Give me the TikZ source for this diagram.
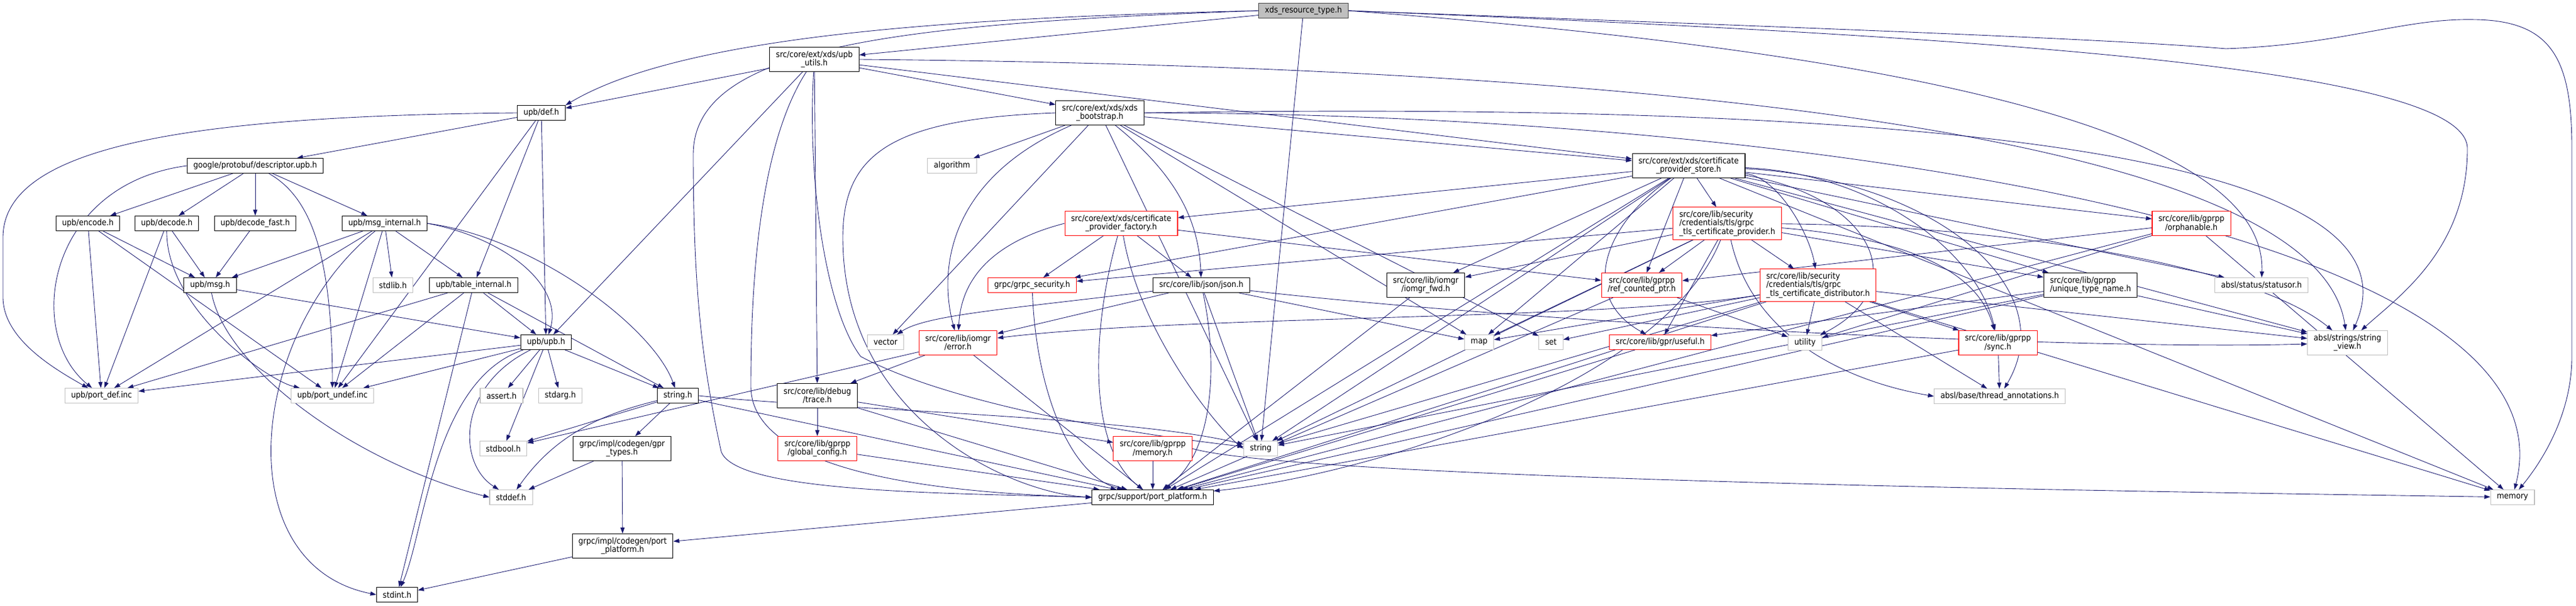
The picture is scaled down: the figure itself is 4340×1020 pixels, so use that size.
\documentclass[tikz,border=0pt]{standalone}
\usepackage{fontspec}
\setmainfont{DejaVu Sans}[FakeStretch=0.9]
\usetikzlibrary{arrows.meta, backgrounds}

\definecolor{edgeblue}{HTML}{191970}
\definecolor{sysgray}{HTML}{BFBFBF}
\definecolor{rootline}{HTML}{404040}

\tikzset{
  hbox/.style={draw, line width=0.6pt, fill=white, inner xsep=6pt, inner ysep=2pt,
    minimum height=14.2pt, align=center, font=\fontsize{8pt}{8.2pt}\selectfont},
  hfile/.style={hbox, draw=black},
  hsys/.style={hbox, draw=sysgray},
  hred/.style={hbox, draw=red},
  hroot/.style={hbox, draw=rootline, fill=sysgray},
  two/.style={minimum height=23.3pt},
  three/.style={minimum height=30.8pt, align=left},
  incl/.style={draw=edgeblue, line width=0.5pt, -{Triangle[length=5.7pt,width=4pt]}}
}

\begin{document}
\begin{tikzpicture}[x=0.02cm, y=-0.02cm]
  \useasboundingbox (0,0) rectangle (4340,1020);
  % xds side
  \node[hroot] (root) at (2196,18) {xds\_resource\_type.h};
  \node[hfile, two] (utils) at (1372,100) {src/core/ext/xds/upb\\\_utils.h};
  \node[hfile, two] (boot) at (1853,190) {src/core/ext/xds/xds\\\_bootstrap.h};
  \node[hfile, two] (store) at (2845,279) {src/core/ext/xds/certificate\\\_provider\_store.h};
  \node[hred, two] (cpfactory) at (1889,376) {src/core/ext/xds/certificate\\\_provider\_factory.h};
  \node[hred, three] (tlsprov) at (2910,376) {src/core/lib/security\\/credentials/tls/grpc\\\_tls\_certificate\_provider.h};
  \node[hred, two] (orphan) at (3692,376) {src/core/lib/gprpp\\/orphanable.h};
  \node[hred] (security) at (1739,480) {grpc/grpc\_security.h};
  \node[hfile] (json) at (2024,480) {src/core/lib/json/json.h};
  \node[hfile, two] (iomgrfwd) at (2402,480) {src/core/lib/iomgr\\/iomgr\_fwd.h};
  \node[hred, two] (refptr) at (2766,480) {src/core/lib/gprpp\\/ref\_counted\_ptr.h};
  \node[hred, three] (tlsdist) at (3063,480) {src/core/lib/security\\/credentials/tls/grpc\\\_tls\_certificate\_distributor.h};
  \node[hfile, two, align=left] (utn) at (3522,480) {src/core/lib/gprpp\\/unique\_type\_name.h};
  \node[hred, two] (error) at (1614,577) {src/core/lib/iomgr\\/error.h};
  \node[hred] (useful) at (2797,576) {src/core/lib/gpr/useful.h};
  \node[hred, two] (sync) at (3366,577) {src/core/lib/gprpp\\/sync.h};
  \node[hfile, two] (trace) at (1377,666) {src/core/lib/debug\\/trace.h};
  \node[hred, two] (globalcfg) at (1377,755) {src/core/lib/gprpp\\/global\_config.h};
  \node[hred, two] (gmemory) at (1942,755) {src/core/lib/gprpp\\/memory.h};
  \node[hfile] (portplat) at (1942,837) {grpc/support/port\_platform.h};
  % upb side
  \node[hfile] (def) at (912,190) {upb/def.h};
  \node[hfile] (desc) at (430,279) {google/protobuf/descriptor.upb.h};
  \node[hfile] (encode) at (148,376) {upb/encode.h};
  \node[hfile] (decode) at (281,376) {upb/decode.h};
  \node[hfile] (decfast) at (430,376) {upb/decode\_fast.h};
  \node[hfile] (msgint) at (648,376) {upb/msg\_internal.h};
  \node[hfile] (msg) at (354,480) {upb/msg.h};
  \node[hfile] (table) at (798,480) {upb/table\_internal.h};
  \node[hfile] (upb) at (920,576) {upb/upb.h};
  \node[hfile] (stringh) at (1142,666) {string.h};
  \node[hfile, two] (gprtypes) at (1048,755) {grpc/impl/codegen/gpr\\\_types.h};
  \node[hfile, two] (codegenpp) at (1049,919) {grpc/impl/codegen/port\\\_platform.h};
  \node[hfile] (stdint) at (669,1001) {stdint.h};
  % system headers
  \node[hsys] (algorithm) at (1604,279) {algorithm};
  \node[hsys] (stdlib) at (662,480) {stdlib.h};
  \node[hsys] (statusor) at (3810,480) {absl/status/statusor.h};
  \node[hsys] (vector) at (1492,576) {vector};
  \node[hsys] (map) at (2492,576) {map};
  \node[hsys] (set) at (2613,576) {set};
  \node[hsys] (utility) at (3041,577) {utility};
  \node[hsys, two] (strview) at (3955,577) {absl/strings/string\\\_view.h};
  \node[hsys] (portdef) at (171,666) {upb/port\_def.inc};
  \node[hsys] (portundef) at (560,666) {upb/port\_undef.inc};
  \node[hsys] (assert) at (845,666) {assert.h};
  \node[hsys] (stdarg) at (944,666) {stdarg.h};
  \node[hsys] (thread) at (3369,667) {absl/base/thread\_annotations.h};
  \node[hsys] (stdbool) at (848,755) {stdbool.h};
  \node[hsys] (string) at (2124,755) {string};
  \node[hsys] (stddef) at (861,837) {stddef.h};
  \node[hsys] (memory) at (4233,837) {memory};

  \begin{pgfonlayer}{background}
  % straight includes
  \foreach \s/\t in {
    root/utils, root/string,
    utils/def, utils/upb, utils/boot, utils/store, utils/trace,
    def/desc, def/table, def/upb, def/portundef,
    desc/encode, desc/decode, desc/decfast, desc/msgint,
    encode/msg, encode/portdef, encode/portundef, decode/msg, decode/portdef, decfast/msg,
    msgint/msg, msgint/stdlib, msgint/table, msgint/portdef, msgint/portundef,
    msg/upb,
    table/stdint, table/stringh, table/upb, table/portdef, table/portundef,
    upb/assert, upb/stdarg, upb/stdbool, upb/stringh, upb/portdef, upb/portundef,
    stringh/stdbool, stringh/gprtypes, stringh/portplat,
    gprtypes/stddef, gprtypes/codegenpp, codegenpp/stdint, portplat/codegenpp,
    trace/globalcfg, trace/portplat, trace/gmemory, globalcfg/portplat, gmemory/portplat,
    error/trace, error/stdbool, error/portplat,
    boot/algorithm, boot/vector, boot/string, boot/map, boot/set, boot/store,
    cpfactory/security, cpfactory/json, cpfactory/refptr,
    json/error, json/string, json/map,
    iomgrfwd/portplat, refptr/utility, refptr/portplat,
    store/cpfactory, store/security, store/string, store/iomgrfwd, store/map, store/refptr,
    store/tlsprov, store/utn, store/orphan, store/strview, store/memory, store/statusor,
    store/portplat,
    tlsprov/security, tlsprov/iomgrfwd, tlsprov/refptr, tlsprov/tlsdist, tlsprov/useful,
    tlsprov/string, tlsprov/map, tlsprov/utn,
    tlsdist/utility, tlsdist/sync, tlsdist/thread, tlsdist/set, tlsdist/map, tlsdist/string,
    tlsdist/portplat, tlsdist/memory, tlsdist/strview,
    useful/portplat, utn/useful, utn/portplat, utn/string, utn/strview,
    sync/thread, sync/portplat,
    orphan/refptr, orphan/portplat, orphan/memory, orphan/utility}{
    \draw[incl] (\s) -- (\t);
  }

  % bent includes
  \draw[incl] (root.west) .. controls (1600,30) and (1150,60) .. (def.north east);
  \draw[incl] (root.west) .. controls (1500,40) and (1168,80) .. (1168,260)
    .. controls (1168,500) and (1185,620) .. (1215,760)
    .. controls (1240,830) and (1600,830) .. (portplat.west);
  \draw[incl] (root.east) .. controls (3100,80) and (3820,200) .. (statusor);
  \draw[incl] (root.east) .. controls (3300,60) and (4157,110) .. (4157,250)
    .. controls (4157,420) and (4040,500) .. (strview);
  \draw[incl] (root.east) .. controls (3000,45) and (3550,65) .. (3750,82)
    .. controls (3950,75) and (4050,30) .. (4170,33)
    .. controls (4300,35) and (4333,100) .. (4333,250) -- (4333,600)
    .. controls (4333,700) and (4280,780) .. (memory);
  \draw[incl] (utils) .. controls (1275,250) and (1265,500) .. (1265,650)
    .. controls (1265,800) and (1600,830) .. (portplat.west);
  \draw[incl] (utils) .. controls (1360,300) and (1390,520) .. (1450,600)
    .. controls (1600,680) and (1900,730) .. (string);
  \draw[incl] (utils.east) .. controls (2600,110) and (3900,200) .. (strview);
  \draw[incl] (def.west) .. controls (300,195) and (5,250) .. (5,400) -- (5,500)
    .. controls (5,570) and (90,620) .. (portdef);
  \draw[incl] (desc.west) .. controls (80,310) and (40,560) .. (portdef);
  \draw[incl] (desc) .. controls (520,330) and (560,420) .. (portundef);
  \draw[incl] (decode) .. controls (280,520) and (450,640) .. (portundef);
  \draw[incl] (msgint.east) .. controls (900,400) and (1100,550) .. (stringh);
  \draw[incl] (msgint.east) .. controls (850,400) and (950,480) .. (upb);
  \draw[incl] (msgint) .. controls (420,560) and (380,950) .. (stdint.west);
  \draw[incl] (msg) .. controls (380,620) and (600,780) .. (stddef.west);
  \draw[incl] (upb) .. controls (730,640) and (715,900) .. (stdint);
  \draw[incl] (upb) .. controls (770,650) and (770,780) .. (stddef);
  \draw[incl] (stringh) .. controls (1000,700) and (930,740) .. (stddef);
  \draw[incl] (stringh.east) .. controls (1400,690) and (1900,700) .. (string);
  \draw[incl] (gmemory.east) .. controls (2200,810) and (3800,830) .. (memory);
  \draw[incl] (boot.west) .. controls (1500,200) and (1420,260) .. (1420,400)
    .. controls (1420,700) and (1700,830) .. (portplat.west);
  \draw[incl] (boot) .. controls (1600,300) and (1580,450) .. (error);
  \draw[incl] (boot) .. controls (1990,300) and (2020,380) .. (json);
  \draw[incl] (boot.east) .. controls (3000,190) and (4350,380) .. (memory);
  \draw[incl] (boot.east) .. controls (3200,170) and (4100,250) .. (strview);
  \draw[incl] (cpfactory.west) .. controls (1700,400) and (1620,450) .. (error);
  \draw[incl] (cpfactory) .. controls (1840,550) and (1830,750) .. (portplat);
  \draw[incl] (cpfactory) .. controls (1920,560) and (2050,720) .. (string.west);
  \draw[incl] (json) .. controls (2050,600) and (2050,760) .. (portplat);
  \draw[incl] (json) .. controls (1700,520) and (1560,530) .. (vector);
  \draw[incl] (json) .. controls (2600,545) and (3500,590) .. (strview);
  \draw[incl] (security) .. controls (1745,650) and (1800,800) .. (portplat);
  \draw[incl] (store) .. controls (3000,300) and (3050,400) .. (tlsdist);
  \draw[incl] (store) .. controls (2700,380) and (2660,500) .. (useful);
  \draw[incl] (store) .. controls (3150,330) and (3230,480) .. (utility);
  \draw[incl] (store) .. controls (3150,290) and (3330,420) .. (sync);
  \draw[incl] (store) .. controls (3250,300) and (3480,480) .. (thread);
  \draw[incl] (tlsprov) .. controls (3200,400) and (3330,450) .. (sync);
  \draw[incl] (tlsprov) .. controls (2950,560) and (3100,640) .. (thread.west);
  \draw[incl] (tlsprov) .. controls (3400,380) and (3800,450) .. (strview);
  \draw[incl] (tlsprov) .. controls (2800,650) and (2300,800) .. (portplat);
  \draw[incl] (tlsdist) .. controls (2700,540) and (2000,530) .. (error);
  \end{pgfonlayer}
\end{tikzpicture}
\end{document}
